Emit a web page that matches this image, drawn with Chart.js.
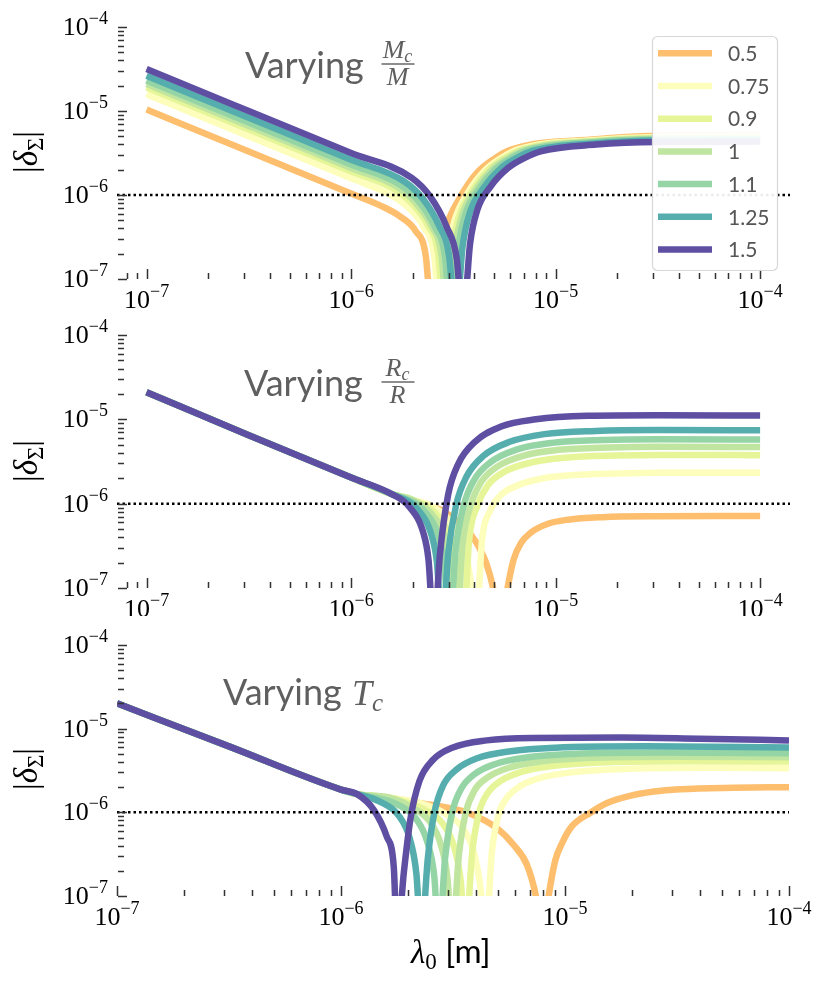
<!DOCTYPE html>
<html>
<head>
<meta charset="utf-8">
<script src="https://cdn.jsdelivr.net/npm/chart.js@4.4.1/dist/chart.umd.min.js"></script>
<style>
  html, body { margin: 0; padding: 0; background: #fff; }
  #wrap { position: relative; width: 831px; height: 987px; overflow: hidden; }
  canvas { position: absolute; left: 0; }
</style>
</head>
<body>
<div id="wrap">
  <canvas id="pMc" width="831" height="308" style="top:0px"></canvas>
  <canvas id="pRc" width="831" height="308" style="top:308px"></canvas>
  <canvas id="pTc" width="831" height="371" style="top:616px"></canvas>
</div>
<script>
// ratio values shown in the legend (same for all three panels)
const ratioLabels = ['0.5', '0.75', '0.9', '1', '1.1', '1.25', '1.5'];
const palette = ['#fdbe6e', '#fdfebc', '#e6f598', '#c0e5a0', '#94d4a5', '#55aead', '#5e4fa2'];

// tick decades (exponents of 10) and minor multipliers
const xTickExps = [-7, -6, -5, -4];
const yTickExps = [-7, -6, -5, -4];
const decadeExps = [-8, -7, -6, -5, -4];
const tickMults = [1, 2, 3, 4, 5, 6, 7, 8, 9];
const threshold = 1e-6;

// panel 1 : varying Mc/M   (lambda in m, |delta_Sigma|)
const mcLam = [
  [1e-7, 3.16e-7, 1e-6, 1.40e-6, 1.72e-6, 2.07e-6, 2.32e-6, 2.49e-6, 2.70e-6, 2.92e-6, 3.40e-6, 4.13e-6, 4.97e-6, 5.97e-6, 1.58e-5, 3.16e-5, 1e-4],
  [1e-7, 3.16e-7, 1e-6, 1.53e-6, 1.89e-6, 2.27e-6, 2.55e-6, 2.73e-6, 2.96e-6, 3.21e-6, 3.72e-6, 4.53e-6, 5.45e-6, 6.55e-6, 1.58e-5, 3.16e-5, 1e-4],
  [1e-7, 3.16e-7, 1e-6, 1.61e-6, 1.98e-6, 2.38e-6, 2.67e-6, 2.86e-6, 3.10e-6, 3.36e-6, 3.90e-6, 4.74e-6, 5.70e-6, 6.85e-6, 1.58e-5, 3.16e-5, 1e-4],
  [1e-7, 3.16e-7, 1e-6, 1.67e-6, 2.05e-6, 2.47e-6, 2.77e-6, 2.96e-6, 3.21e-6, 3.48e-6, 4.05e-6, 4.92e-6, 5.92e-6, 7.11e-6, 1.58e-5, 3.16e-5, 1e-4],
  [1e-7, 3.16e-7, 1e-6, 1.73e-6, 2.13e-6, 2.56e-6, 2.88e-6, 3.08e-6, 3.34e-6, 3.62e-6, 4.21e-6, 5.12e-6, 6.15e-6, 7.40e-6, 1.58e-5, 3.16e-5, 1e-4],
  [1e-7, 3.16e-7, 1e-6, 1.82e-6, 2.24e-6, 2.69e-6, 3.02e-6, 3.24e-6, 3.51e-6, 3.80e-6, 4.42e-6, 5.37e-6, 6.46e-6, 7.76e-6, 1.58e-5, 3.16e-5, 1e-4],
  [1e-7, 3.16e-7, 1e-6, 1.98e-6, 2.44e-6, 2.93e-6, 3.29e-6, 3.52e-6, 3.82e-6, 4.14e-6, 4.81e-6, 5.85e-6, 7.03e-6, 8.45e-6, 1.58e-5, 3.16e-5, 1e-4]
];
const mcDelta = [
  [1.04e-5, 3.29e-6, 1.04e-6, 7.43e-7, 5.64e-7, 3.72e-7, 1.87e-7, 3e-8, 1.64e-7, 4.12e-7, 9.2e-7, 1.84e-6, 2.66e-6, 3.43e-6, 4.62e-6, 5.07e-6, 5.19e-6],
  [1.58e-5, 5.01e-6, 1.58e-6, 1.03e-6, 7.21e-7, 4.13e-7, 1.92e-7, 3e-8, 2.0e-7, 5.01e-7, 1.06e-6, 1.98e-6, 2.77e-6, 3.49e-6, 4.52e-6, 4.92e-6, 5.01e-6],
  [1.91e-5, 6.03e-6, 1.91e-6, 1.19e-6, 7.98e-7, 4.31e-7, 1.95e-7, 3e-8, 2.16e-7, 5.40e-7, 1.11e-6, 2.03e-6, 2.80e-6, 3.48e-6, 4.44e-6, 4.81e-6, 4.90e-6],
  [2.10e-5, 6.64e-6, 2.10e-6, 1.26e-6, 8.28e-7, 4.29e-7, 1.90e-7, 3e-8, 2.26e-7, 5.64e-7, 1.15e-6, 2.05e-6, 2.80e-6, 3.46e-6, 4.36e-6, 4.71e-6, 4.79e-6],
  [2.31e-5, 7.29e-6, 2.31e-6, 1.33e-6, 8.55e-7, 4.25e-7, 1.84e-7, 3e-8, 2.36e-7, 5.89e-7, 1.17e-6, 2.07e-6, 2.80e-6, 3.44e-6, 4.28e-6, 4.60e-6, 4.68e-6],
  [2.63e-5, 8.32e-6, 2.63e-6, 1.45e-6, 9.08e-7, 4.33e-7, 1.84e-7, 3e-8, 2.44e-7, 6.07e-7, 1.19e-6, 2.06e-6, 2.76e-6, 3.37e-6, 4.14e-6, 4.46e-6, 4.52e-6],
  [3.16e-5, 1.0e-5, 3.16e-6, 1.60e-6, 9.55e-7, 4.20e-7, 1.71e-7, 3e-8, 2.66e-7, 6.61e-7, 1.26e-6, 2.09e-6, 2.75e-6, 3.31e-6, 3.98e-6, 4.27e-6, 4.32e-6]
];

// panel 2 : varying Rc/R
const rcLam = [
  [1e-7, 3.16e-7, 1e-6, 1.58e-6, 2.24e-6, 2.82e-6, 3.55e-6, 4.07e-6, 4.57e-6, 4.95e-6, 5.37e-6, 5.82e-6, 6.24e-6, 6.76e-6, 7.59e-6, 9.12e-6, 1.15e-5, 1.70e-5, 3.02e-5, 1e-4],
  [1e-7, 3.16e-7, 1e-6, 1.58e-6, 2.0e-6, 2.51e-6, 3.09e-6, 3.63e-6, 3.85e-6, 4.07e-6, 4.37e-6, 4.79e-6, 5.37e-6, 6.46e-6, 8.71e-6, 1.29e-5, 2.29e-5, 3.16e-5, 1e-4],
  [1e-7, 3.16e-7, 1e-6, 1.58e-6, 2.0e-6, 2.68e-6, 3.15e-6, 3.33e-6, 3.53e-6, 3.78e-6, 4.15e-6, 4.66e-6, 5.60e-6, 7.55e-6, 1.12e-5, 1.99e-5, 3.16e-5, 1e-4],
  [1e-7, 3.16e-7, 1e-6, 1.58e-6, 2.0e-6, 2.48e-6, 2.92e-6, 3.09e-6, 3.27e-6, 3.51e-6, 3.85e-6, 4.32e-6, 5.19e-6, 7.0e-6, 1.035e-5, 1.84e-5, 3.16e-5, 1e-4],
  [1e-7, 3.16e-7, 1e-6, 1.58e-6, 2.30e-6, 2.70e-6, 2.86e-6, 3.03e-6, 3.25e-6, 3.56e-6, 4.0e-6, 4.81e-6, 6.49e-6, 9.59e-6, 1.71e-5, 3.16e-5, 1e-4],
  [1e-7, 3.16e-7, 1e-6, 1.58e-6, 2.11e-6, 2.48e-6, 2.63e-6, 2.79e-6, 2.99e-6, 3.27e-6, 3.67e-6, 4.42e-6, 5.96e-6, 8.81e-6, 1.57e-5, 3.16e-5, 1e-4],
  [1e-7, 3.16e-7, 1e-6, 1.58e-6, 1.92e-6, 2.26e-6, 2.39e-6, 2.54e-6, 2.72e-6, 2.98e-6, 3.34e-6, 4.02e-6, 5.42e-6, 8.02e-6, 1.43e-5, 3.16e-5, 1e-4]
];
const rcDelta = [
  [2.10e-5, 6.46e-6, 2.04e-6, 1.30e-6, 1.0e-6, 8.13e-7, 5.37e-7, 3.55e-7, 2.0e-7, 1.0e-7, 3e-8, 1.0e-7, 2.19e-7, 3.39e-7, 4.57e-7, 5.75e-7, 6.46e-7, 6.92e-7, 7.08e-7, 7.13e-7],
  [2.10e-5, 6.46e-6, 2.04e-6, 1.30e-6, 1.11e-6, 9.23e-7, 5.92e-7, 2.51e-7, 1.17e-7, 3e-8, 3.69e-7, 8.26e-7, 1.25e-6, 1.63e-6, 2.0e-6, 2.20e-6, 2.30e-6, 2.33e-6, 2.32e-6],
  [2.10e-5, 6.46e-6, 2.04e-6, 1.30e-6, 1.11e-6, 6.98e-7, 3.18e-7, 1.49e-7, 3e-8, 3.78e-7, 9.48e-7, 1.65e-6, 2.38e-6, 3.07e-6, 3.51e-6, 3.72e-6, 3.78e-6, 3.76e-6],
  [2.10e-5, 6.46e-6, 2.04e-6, 1.30e-6, 1.11e-6, 7.55e-7, 3.48e-7, 1.67e-7, 3e-8, 3.35e-7, 9.66e-7, 1.80e-6, 2.75e-6, 3.72e-6, 4.35e-6, 4.65e-6, 4.73e-6, 4.70e-6],
  [2.10e-5, 6.46e-6, 2.04e-6, 1.30e-6, 7.98e-7, 3.80e-7, 1.83e-7, 3e-8, 2.90e-7, 9.62e-7, 1.92e-6, 3.11e-6, 4.40e-6, 5.26e-6, 5.68e-6, 5.79e-6, 5.75e-6],
  [2.10e-5, 6.46e-6, 2.04e-6, 1.30e-6, 8.63e-7, 4.15e-7, 2.01e-7, 3e-8, 2.65e-7, 9.84e-7, 2.10e-6, 3.66e-6, 5.41e-6, 6.68e-6, 7.29e-6, 7.46e-6, 7.41e-6],
  [2.10e-5, 6.46e-6, 2.04e-6, 1.30e-6, 9.25e-7, 4.44e-7, 2.19e-7, 3e-8, 2.51e-7, 1.26e-6, 2.95e-6, 5.37e-6, 8.22e-6, 1.0e-5, 1.10e-5, 1.12e-5, 1.11e-5]
];

// panel 3 : varying Tc
const tcLam = [
  [1e-7, 3.16e-7, 1e-6, 1.18e-6, 1.66e-6, 2.26e-6, 3.16e-6, 3.78e-6, 4.97e-6, 5.90e-6, 6.76e-6, 7.41e-6, 7.94e-6, 8.45e-6, 9.06e-6, 9.70e-6, 1.07e-5, 1.30e-5, 1.54e-5, 1.89e-5, 2.49e-5, 3.27e-5, 5.66e-5, 1e-4],
  [1e-7, 3.16e-7, 1e-6, 1.18e-6, 1.66e-6, 2.26e-6, 2.91e-6, 3.50e-6, 3.93e-6, 4.21e-6, 4.41e-6, 4.72e-6, 5.06e-6, 5.55e-6, 6.37e-6, 7.83e-6, 1.11e-5, 1.75e-5, 4.41e-5, 1e-4],
  [1e-7, 3.16e-7, 1e-6, 1.18e-6, 1.66e-6, 2.37e-6, 2.85e-6, 3.20e-6, 3.43e-6, 3.59e-6, 3.85e-6, 4.12e-6, 4.52e-6, 5.19e-6, 6.38e-6, 9.02e-6, 1.43e-5, 3.59e-5, 1e-4],
  [1e-7, 3.16e-7, 1e-6, 1.18e-6, 1.66e-6, 2.07e-6, 2.49e-6, 2.79e-6, 2.99e-6, 3.13e-6, 3.36e-6, 3.60e-6, 3.94e-6, 4.53e-6, 5.57e-6, 7.87e-6, 1.25e-5, 3.13e-5, 1e-4],
  [1e-7, 3.16e-7, 1e-6, 1.18e-6, 1.80e-6, 2.17e-6, 2.43e-6, 2.61e-6, 2.73e-6, 2.92e-6, 3.13e-6, 3.44e-6, 3.94e-6, 4.85e-6, 6.85e-6, 1.09e-5, 2.73e-5, 1e-4],
  [1e-7, 3.16e-7, 1e-6, 1.18e-6, 1.50e-6, 1.81e-6, 2.03e-6, 2.17e-6, 2.28e-6, 2.44e-6, 2.61e-6, 2.86e-6, 3.29e-6, 4.05e-6, 5.71e-6, 9.06e-6, 2.28e-5, 1e-4],
  [1e-7, 3.16e-7, 1e-6, 1.18e-6, 1.40e-6, 1.60e-6, 1.72e-6, 1.78e-6, 1.91e-6, 2.04e-6, 2.24e-6, 2.57e-6, 3.16e-6, 4.47e-6, 7.08e-6, 1.78e-5, 3.98e-5, 1e-4]
];
const tcDelta = [
  [2.01e-5, 6.14e-6, 1.87e-6, 1.65e-6, 1.49e-6, 1.29e-6, 1.10e-6, 9.64e-7, 6.46e-7, 4.07e-7, 2.36e-7, 1.0e-7, 3e-8, 1.0e-7, 2.70e-7, 4.28e-7, 6.75e-7, 9.91e-7, 1.29e-6, 1.54e-6, 1.77e-6, 1.89e-6, 1.97e-6, 2.0e-6],
  [2.01e-5, 6.14e-6, 1.87e-6, 1.65e-6, 1.49e-6, 1.29e-6, 9.70e-7, 6.46e-7, 3.24e-7, 1.16e-7, 3e-8, 3.43e-7, 9.44e-7, 1.53e-6, 2.09e-6, 2.60e-6, 3.04e-6, 3.28e-6, 3.40e-6, 3.37e-6],
  [2.01e-5, 6.14e-6, 1.87e-6, 1.65e-6, 1.49e-6, 1.07e-6, 7.26e-7, 3.85e-7, 1.46e-7, 3e-8, 3.27e-7, 9.66e-7, 1.70e-6, 2.40e-6, 3.04e-6, 3.61e-6, 3.94e-6, 4.08e-6, 4.04e-6],
  [2.01e-5, 6.14e-6, 1.87e-6, 1.65e-6, 1.49e-6, 1.15e-6, 7.74e-7, 4.12e-7, 1.59e-7, 3e-8, 3.09e-7, 9.77e-7, 1.82e-6, 2.63e-6, 3.39e-6, 4.07e-6, 4.46e-6, 4.62e-6, 4.55e-6],
  [2.01e-5, 6.14e-6, 1.87e-6, 1.65e-6, 1.23e-6, 8.30e-7, 4.41e-7, 1.70e-7, 3e-8, 2.95e-7, 9.77e-7, 1.91e-6, 2.85e-6, 3.76e-6, 4.55e-6, 4.99e-6, 5.19e-6, 5.08e-6],
  [2.01e-5, 6.14e-6, 1.87e-6, 1.65e-6, 1.33e-6, 9.12e-7, 4.83e-7, 1.85e-7, 3e-8, 2.79e-7, 9.89e-7, 2.11e-6, 3.27e-6, 4.42e-6, 5.37e-6, 5.93e-6, 6.17e-6, 5.96e-6],
  [2.01e-5, 6.14e-6, 1.87e-6, 1.65e-6, 1.07e-6, 5.13e-7, 2.24e-7, 3e-8, 1.97e-7, 8.22e-7, 2.37e-6, 4.22e-6, 5.96e-6, 7.24e-6, 7.76e-6, 7.85e-6, 7.59e-6, 7.24e-6]
];

const SERIF = '"Liberation Serif", "DejaVu Serif", serif';
const SANS = 'Lato, "Open Sans", sans-serif';

// draw a run of text pieces [{t, f, dy}] starting at x (or centred)
function drawRun(ctx, parts, x, y, align) {
  let total = 0;
  parts.forEach(p => { ctx.font = p.f; p.w = ctx.measureText(p.t).width; total += p.w; });
  let cx = align === 'center' ? x - total / 2 : (align === 'right' ? x - total : x);
  parts.forEach(p => {
    ctx.font = p.f;
    ctx.fillText(p.t, cx, y + (p.dy || 0));
    cx += p.w;
  });
}

function pow10(ctx, exp, x, y, align) {
  drawRun(ctx, [
    { t: '10', f: `26px ${SERIF}` },
    { t: '\u2212' + Math.abs(exp), f: `18px ${SERIF}`, dy: -11 }
  ], x, y, align);
}

function fraction(ctx, num, den, cx, barY) {
  ctx.fillRect(cx - 16, barY - 0.7, 33, 1.4);
  drawRun(ctx, [
    { t: num, f: `italic 26px ${SERIF}` },
    { t: 'c', f: `italic 18px ${SERIF}`, dy: 4 }
  ], cx, barY - 6, 'center');
  drawRun(ctx, [{ t: den, f: `italic 26px ${SERIF}` }], cx, barY + 21, 'center');
}

function yLabel(ctx, cy) {
  ctx.save();
  ctx.translate(37, cy);
  ctx.rotate(-Math.PI / 2);
  ctx.fillStyle = '#000';
  drawRun(ctx, [
    { t: '|', f: `33px ${SERIF}` },
    { t: '\u03b4', f: `italic 33px ${SERIF}` },
    { t: '\u03a3', f: `23px ${SERIF}`, dy: 6 },
    { t: '|', f: `33px ${SERIF}` }
  ], 0, 0, 'center');
  ctx.restore();
}

function makeDecor(cfg) {
  return {
    id: 'decor' + cfg.name,
    afterDraw(chart) {
      const { ctx, chartArea: a, scales: { x, y } } = chart;
      ctx.save();
      // tick marks (inward)
      ctx.strokeStyle = '#333';
      ctx.lineWidth = 1.5;
      ctx.beginPath();
      decadeExps.forEach(e => {
        tickMults.forEach(m => {
          const v = m * Math.pow(10, e);
          const major = m === 1;
          if (v >= y.min * 0.999 && v <= y.max * 1.001) {
            const py = Math.round(y.getPixelForValue(v)) + 0.5;
            ctx.moveTo(a.left + 1, py);
            ctx.lineTo(a.left + (major ? 10 : 7), py);
          }
          if (v >= x.min * 0.999 && v <= x.max * 1.001) {
            const px = Math.round(x.getPixelForValue(v)) + 0.5;
            ctx.moveTo(px, a.bottom);
            ctx.lineTo(px, a.bottom - (major ? 10 : 6));
          }
        });
      });
      ctx.stroke();

      // tick labels
      ctx.fillStyle = '#000';
      ctx.textBaseline = 'alphabetic';
      yTickExps.forEach(e => {
        pow10(ctx, e, 108, y.getPixelForValue(Math.pow(10, e)) + 8, 'right');
      });
      xTickExps.forEach(e => {
        pow10(ctx, e, x.getPixelForValue(Math.pow(10, e)), a.bottom + 29, 'center');
      });

      // panel texts, page coordinates
      ctx.translate(0, -cfg.top);
      yLabel(ctx, cfg.ylabelY);
      ctx.fillStyle = '#5f5f5f';
      cfg.title(ctx);

      if (cfg.legend) {
        ctx.translate(0, cfg.top);
        ctx.fillStyle = 'rgba(255,255,255,0.92)';
        ctx.strokeStyle = '#d8d8d8';
        ctx.lineWidth = 1.2;
        ctx.beginPath();
        ctx.roundRect(652.5, 36.5, 125, 234, 5);
        ctx.fill();
        ctx.stroke();
        ctx.font = `21px ${SANS}`;
        ctx.textBaseline = 'middle';
        ratioLabels.forEach((lab, i) => {
          const ly = 53.3 + i * 32.7;
          ctx.strokeStyle = palette[i];
          ctx.lineWidth = 6.5;
          ctx.beginPath();
          ctx.moveTo(658, ly);
          ctx.lineTo(712, ly);
          ctx.stroke();
          ctx.fillStyle = '#555';
          ctx.fillText(lab, 728, ly + 1);
        });
        ctx.textBaseline = 'alphabetic';
        ctx.translate(0, -cfg.top);
      }
      if (cfg.xlabel) {
        ctx.fillStyle = '#000';
        drawRun(ctx, [
          { t: '\u03bb', f: `italic 33px ${SERIF}` },
          { t: '0', f: `23px ${SERIF}`, dy: 6 },
          { t: ' [m]', f: `33px ${SANS}` }
        ], 411, 963, 'left');
      }
      ctx.restore();
    }
  };
}

function makeChart(cfg, lam, del) {
  const datasets = ratioLabels.map((lab, i) => {
    const n = Math.min(lam[i].length, del[i].length);
    const pts = [];
    for (let j = 0; j < n; j++) pts.push({ x: lam[i][j], y: del[i][j] });
    return {
      label: lab,
      data: pts,
      borderColor: palette[i],
      backgroundColor: palette[i],
      borderWidth: 6.5,
      borderJoinStyle: 'round',
      pointRadius: 0,
      fill: false,
      cubicInterpolationMode: 'monotone',
      order: 10 - i,
      clip: 0
    };
  });
  datasets.push({
    label: 'threshold',
    data: [{ x: cfg.xMin, y: threshold }, { x: cfg.xMax, y: threshold }],
    borderColor: '#000',
    borderWidth: 2.5,
    borderDash: [2.5, 3],
    pointRadius: 0,
    fill: false,
    order: 0,
    clip: 0
  });
  return new Chart(document.getElementById(cfg.canvas), {
    type: 'line',
    data: { datasets },
    options: {
      responsive: false,
      animation: false,
      devicePixelRatio: 1,
      layout: { padding: cfg.pad },
      scales: {
        x: { type: 'logarithmic', min: cfg.xMin, max: cfg.xMax, display: false },
        y: { type: 'logarithmic', min: 1e-7, max: 1e-4, display: false }
      },
      plugins: { legend: { display: false }, tooltip: { enabled: false } }
    },
    plugins: [makeDecor(cfg)]
  });
}

makeChart({
  name: 'mc', canvas: 'pMc', top: 0, xMin: 7.17e-8, xMax: 1.40e-4,
  pad: { left: 117, right: 41, top: 27, bottom: 29 },
  ylabelY: 152, legend: true,
  title(ctx) {
    ctx.font = `36px ${SANS}`;
    ctx.fillText('Varying', 245, 78);
    fraction(ctx, 'M', 'M', 397.5, 64);
  }
}, mcLam, mcDelta);

makeChart({
  name: 'rc', canvas: 'pRc', top: 308, xMin: 7.17e-8, xMax: 1.40e-4,
  pad: { left: 117, right: 41, top: 27, bottom: 28 },
  ylabelY: 461,
  title(ctx) {
    ctx.font = `36px ${SANS}`;
    ctx.fillText('Varying', 244, 396);
    fraction(ctx, 'R', 'R', 397.5, 382);
  }
}, rcLam, rcDelta);

makeChart({
  name: 'tc', canvas: 'pTc', top: 616, xMin: 1e-7, xMax: 1e-4,
  pad: { left: 117, right: 42, top: 29, bottom: 91 },
  ylabelY: 769, xlabel: true,
  title(ctx) {
    ctx.font = `36px ${SANS}`;
    ctx.fillText('Varying', 223, 705);
    drawRun(ctx, [
      { t: 'T', f: `italic 36px ${SERIF}` },
      { t: 'c', f: `italic 25px ${SERIF}`, dy: 6 }
    ], 352, 705, 'left');
  }
}, tcLam, tcDelta);
</script>
</body>
</html>
